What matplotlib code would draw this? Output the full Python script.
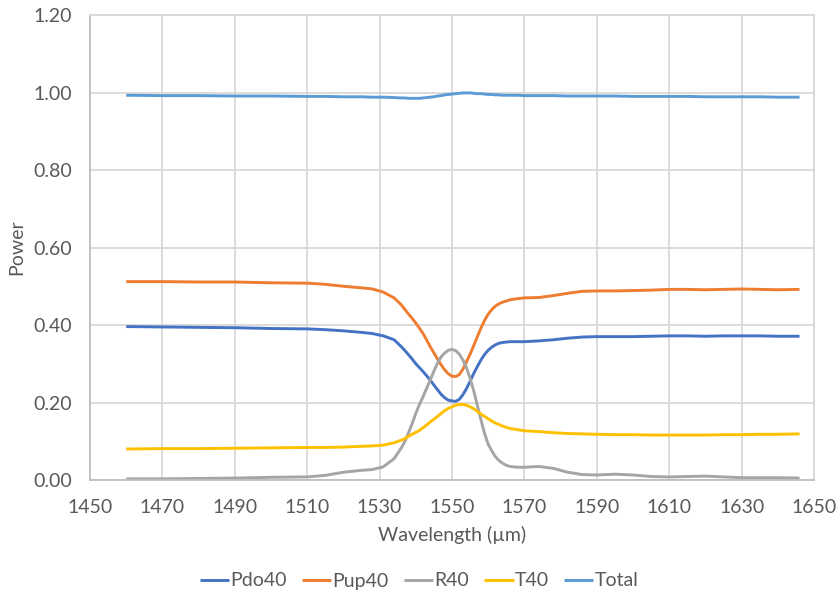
import matplotlib
matplotlib.use("Agg")
import matplotlib.pyplot as plt


# =========================
# DATOS
# =========================
wavelength = [1460, 1470, 1480, 1490, 1500, 1510, 1515, 1520, 1525, 1528,
              1531, 1534,
              1536, 1537, 1538, 1539, 1540, 1541, 1542, 1543, 1544, 1545,
              1546, 1547, 1548, 1549, 1550, 1551, 1552, 1553, 1554, 1555,
              1556, 1557, 1558, 1559, 1560, 1561, 1562, 1563, 1564, 1565,
              1566,
              1568, 1570, 1574, 1578, 1582, 1586, 1590, 1595, 1600, 1605,
              1610, 1615, 1620, 1625, 1630, 1635, 1640, 1646]

pdo40 = [0.396, 0.395, 0.394, 0.393, 0.391, 0.390, 0.388, 0.385, 0.381, 0.378,
         0.372, 0.362,
         0.344, 0.334, 0.323, 0.312, 0.300, 0.290, 0.280, 0.269, 0.258, 0.245,
         0.233, 0.221, 0.212, 0.206, 0.204, 0.203, 0.208, 0.220, 0.236, 0.255,
         0.275, 0.293, 0.310, 0.324, 0.335, 0.343, 0.349, 0.353, 0.355, 0.356,
         0.357,
         0.357, 0.357, 0.359, 0.362, 0.366, 0.369, 0.370, 0.370, 0.370, 0.371,
         0.372, 0.372, 0.371, 0.372, 0.372, 0.372, 0.371, 0.371]

pup40 = [0.512, 0.512, 0.511, 0.511, 0.509, 0.508, 0.505, 0.500, 0.496, 0.493,
         0.485, 0.470,
         0.452, 0.440, 0.428, 0.417, 0.405, 0.392, 0.378, 0.361, 0.344, 0.328,
         0.312, 0.297, 0.284, 0.274, 0.268, 0.267, 0.272, 0.286, 0.305, 0.325,
         0.347, 0.370, 0.392, 0.412, 0.428, 0.440, 0.449, 0.455, 0.459, 0.462,
         0.465,
         0.468, 0.470, 0.471, 0.476, 0.482, 0.487, 0.488, 0.488, 0.489, 0.490,
         0.492, 0.492, 0.491, 0.492, 0.493, 0.492, 0.491, 0.492]

r40 = [0.003, 0.003, 0.004, 0.005, 0.007, 0.008, 0.012, 0.020, 0.025, 0.027,
       0.034, 0.055,
       0.083, 0.100, 0.122, 0.146, 0.172, 0.195, 0.215, 0.237, 0.258, 0.281,
       0.302, 0.318, 0.328, 0.335, 0.337, 0.334, 0.325, 0.310, 0.290, 0.262,
       0.230, 0.192, 0.155, 0.120, 0.092, 0.075, 0.060, 0.050, 0.043, 0.038,
       0.035,
       0.033, 0.033, 0.035, 0.030, 0.020, 0.014, 0.013, 0.015, 0.013, 0.009,
       0.008, 0.009, 0.010, 0.008, 0.006, 0.006, 0.006, 0.005]

t40 = [0.080, 0.081, 0.081, 0.082, 0.083, 0.084, 0.084, 0.085, 0.087, 0.088,
       0.090, 0.096,
       0.103, 0.107, 0.113, 0.118, 0.123, 0.128, 0.135, 0.142, 0.150, 0.157,
       0.164, 0.172, 0.179, 0.185, 0.189, 0.193, 0.195, 0.195, 0.193, 0.189,
       0.184, 0.177, 0.170, 0.164, 0.158, 0.152, 0.147, 0.143, 0.139, 0.136,
       0.133,
       0.130, 0.127, 0.125, 0.122, 0.120, 0.119, 0.118, 0.117, 0.117, 0.116,
       0.116, 0.116, 0.116, 0.117, 0.117, 0.118, 0.118, 0.119]

total = [0.993, 0.992, 0.992, 0.991, 0.991, 0.990, 0.990, 0.989, 0.989, 0.988,
         0.988, 0.987,
         0.986, 0.986, 0.985, 0.985, 0.985, 0.985, 0.986, 0.987, 0.988, 0.989,
         0.991, 0.992, 0.994, 0.995, 0.996, 0.997, 0.998, 0.999, 0.999, 0.999,
         0.998, 0.997, 0.997, 0.996, 0.995, 0.995, 0.994, 0.994, 0.993, 0.993,
         0.993,
         0.993, 0.992, 0.992, 0.992, 0.991, 0.991, 0.991, 0.991, 0.990, 0.990,
         0.990, 0.990, 0.989, 0.989, 0.989, 0.989, 0.988, 0.988]

series = [
    ("Pdo40", pdo40, "#4472C4"),
    ("Pup40", pup40, "#ED7D31"),
    ("R40", r40, "#A5A5A5"),
    ("T40", t40, "#FFC000"),
    ("Total", total, "#5B9BD5"),
]

x_ticks = list(range(1450, 1651, 20))
y_ticks = [0.0, 0.2, 0.4, 0.6, 0.8, 1.0, 1.2]

# =========================
# GRÁFICO
# =========================
plt.rcParams["font.family"] = ["Lato", "DejaVu Sans"]
text_color = "#595959"
fs = 14

fig = plt.figure(figsize=(8.38, 5.94), dpi=100)
ax = fig.add_axes([0.1074, 0.1919, 0.8640, 0.7828])

for name, values, color in series:
    ax.plot(wavelength, values, color=color, lw=2.1, label=name,
            solid_joinstyle="round", solid_capstyle="butt")

ax.set_xlim(1450, 1650)
ax.set_ylim(0, 1.2)
ax.set_xticks(x_ticks)
ax.set_yticks(y_ticks)
ax.set_yticklabels([f"{v:.2f}" for v in y_ticks])

ax.grid(True, color="#D9D9D9", lw=1.3)
ax.set_axisbelow(True)
for side in ["top", "right"]:
    ax.spines[side].set_color("#D9D9D9")
    ax.spines[side].set_linewidth(1.3)
for side in ["left", "bottom"]:
    ax.spines[side].set_color("#BFBFBF")
    ax.spines[side].set_linewidth(1.3)

ax.tick_params(axis="both", length=0, labelsize=fs, colors=text_color)
ax.tick_params(axis="y", pad=13)
ax.tick_params(axis="x", pad=14)

ax.set_xlabel("Wavelength (µm)", fontsize=fs, color=text_color, labelpad=7)
ax.set_ylabel("Power", fontsize=fs, color=text_color, labelpad=6)

# leyenda abajo, centrada en la figura
fig.legend(loc="center", bbox_to_anchor=(0.5, 1 - 581 / 594),
           ncol=5, frameon=False, fontsize=fs, handlelength=1.5,
           handletextpad=0.05, columnspacing=0.8, labelcolor=text_color)

fig.savefig("out.png", dpi=100)
